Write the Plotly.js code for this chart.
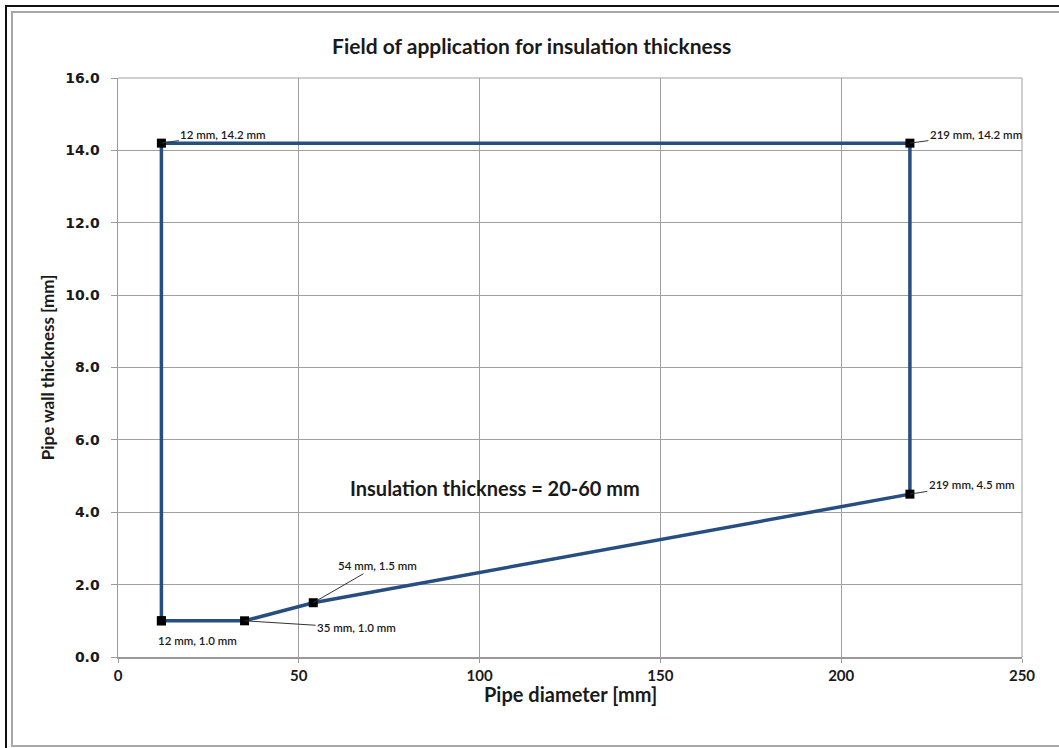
<!DOCTYPE html>
<html>
<head>
<meta charset="utf-8">
<script src="https://cdn.plot.ly/plotly-3.0.1.min.js"></script>
<style>
  html, body { margin: 0; padding: 0; background: #fff; }
  #wrap { position: relative; width: 1059px; height: 748px; overflow: hidden; }
  #chart { position: absolute; left: 0; top: 0; width: 1059px; height: 748px; }
  .b { position: absolute; pointer-events: none; }
</style>
</head>
<body>
<div id="wrap">
  <div id="chart"></div>
  <div class="b" style="left:5px; top:5px; width:1054px; height:2px; background:#111;"></div>
  <div class="b" style="left:5px; top:5px; width:2px; height:743px; background:#111;"></div>
  <div class="b" style="left:11px; top:11px; width:1050px; height:732px; border:2px solid #a8a8a8; border-right:none;"></div>
</div>
<script>
// Boundary of the field of application
const pipeDiameter = [12, 35, 54, 219, 219, 12, 12];
const wallThickness = [1.0, 1.0, 1.5, 4.5, 14.2, 14.2, 1.0];

// Labelled points
const labelX = [12, 219, 219, 54, 35, 12];
const labelY = [14.2, 14.2, 4.5, 1.5, 1.0, 1.0];
const labelText = ['12 mm, 14.2 mm', '219 mm, 14.2 mm', '219 mm, 4.5 mm', '54 mm, 1.5 mm', '35 mm, 1.0 mm', '12 mm, 1.0 mm'];

const xTicks = [0, 50, 100, 150, 200, 250];
const yTicks = [0, 2, 4, 6, 8, 10, 12, 14, 16];

const titleText = 'Field of application for insulation thickness';
const xTitle = 'Pipe diameter [mm]';
const yTitle = 'Pipe wall thickness [mm]';
const noteText = 'Insulation thickness = 20-60 mm';

const offsets = [[62, -9, true], [66, -9, true], [62, -10, true], [64, -37, true], [112, 7, true], [36, 20, false]];

const annotations = labelText.map((t, i) => ({
  x: labelX[i], y: labelY[i], xref: 'x', yref: 'y',
  text: t, showarrow: true, arrowhead: 0, arrowwidth: 1,
  arrowcolor: offsets[i][2] ? '#333' : 'rgba(0,0,0,0)',
  ax: offsets[i][0], ay: offsets[i][1],
  font: {family: 'Lato, "Open Sans", sans-serif', size: 11.5, color: '#1a1a1a', weight: 600}
}));
annotations.push({
  x: 0.417, y: 0.292, xref: 'paper', yref: 'paper', showarrow: false,
  text: noteText, xanchor: 'center', yanchor: 'middle',
  font: {family: 'Lato, "Open Sans", sans-serif', size: 20, color: '#1a1a1a', weight: 'bold'}
});
// x-axis title placed just below the tick labels
annotations.push({
  x: 0.5, y: 0, xref: 'paper', yref: 'paper', showarrow: false,
  text: '<b>' + xTitle + '</b>', xanchor: 'center', yanchor: 'top', yshift: -23,
  font: {family: 'Lato, "Open Sans", sans-serif', size: 20, color: '#1a1a1a'}
});

const trace = {
  x: pipeDiameter, y: wallThickness, type: 'scatter', mode: 'lines+markers',
  line: {color: '#264E80', width: 3.5},
  marker: {symbol: 'square', size: 9, color: '#000'},
  hoverinfo: 'x+y'
};

const layout = {
  width: 1059, height: 748,
  margin: {l: 118, r: 37, t: 78, b: 91},
  paper_bgcolor: '#fff', plot_bgcolor: '#fff',
  showlegend: false,
  title: {text: '<b>' + titleText + '</b>', x: 0.502, xanchor: 'center', y: 0.937, yanchor: 'middle',
          xref: 'container',
          font: {family: 'Lato, "Open Sans", sans-serif', size: 21, color: '#1a1a1a'}},
  xaxis: {
    range: [0, 250], tickvals: xTicks, ticktext: xTicks.map(String),
    showgrid: true, gridcolor: '#a0a0a0', gridwidth: 1,
    zeroline: false, showline: true, linecolor: '#9a9a9a', linewidth: 1.5,
    ticks: 'outside', ticklen: 4, tickcolor: '#9a9a9a',
    tickfont: {family: 'Lato, "Open Sans", sans-serif', size: 15, color: '#1a1a1a', weight: 'bold'}
  },
  yaxis: {
    range: [0, 16], tickvals: yTicks, ticktext: yTicks.map(v => v.toFixed(1)),
    showgrid: true, gridcolor: '#a0a0a0', gridwidth: 1,
    zeroline: false, showline: true, linecolor: '#9a9a9a', linewidth: 1.5,
    ticks: 'outside', ticklen: 6, tickcolor: '#9a9a9a', ticklabelstandoff: 8,
    tickfont: {family: '"DejaVu Sans", Verdana, sans-serif', size: 14, color: '#1a1a1a', weight: 'bold'},
    title: {text: '<b>' + yTitle + '</b>', standoff: 6,
            font: {family: 'Lato, "Open Sans", sans-serif', size: 17, color: '#1a1a1a'}}
  },
  shapes: [
    {type: 'line', xref: 'paper', yref: 'paper', x0: 1, x1: 1, y0: 0, y1: 1, line: {color: '#a0a0a0', width: 1}},
    {type: 'line', xref: 'paper', yref: 'paper', x0: 0, x1: 1, y0: 1, y1: 1, line: {color: '#a0a0a0', width: 1}}
  ],
  annotations: annotations
};

Plotly.newPlot('chart', [trace], layout, {displayModeBar: false, staticPlot: true});
</script>
</body>
</html>
